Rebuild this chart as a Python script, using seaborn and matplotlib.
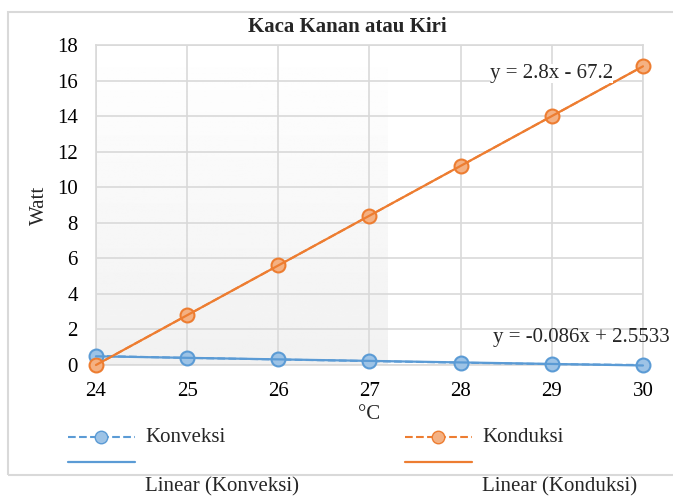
import numpy as np
import pandas as pd
import matplotlib
matplotlib.use("Agg")
import matplotlib.pyplot as plt
import seaborn as sns
from matplotlib.lines import Line2D
from matplotlib.patches import Rectangle

# ---- data ----
suhu = [24, 25, 26, 27, 28, 29, 30]
konveksi = [0.51, 0.40, 0.31, 0.22, 0.13, 0.05, 0.0]
konduksi = [0.0, 2.8, 5.6, 8.4, 11.2, 14.0, 16.8]
eq_konveksi = "y = -0.086x + 2.5533"
eq_konduksi = "y = 2.8x - 67.2"
y_ticks = [0, 2, 4, 6, 8, 10, 12, 14, 16, 18]

df = pd.DataFrame({"suhu": suhu, "Konveksi": konveksi, "Konduksi": konduksi})

sns.set_theme(style="white")
plt.rcParams["font.family"] = ["Liberation Serif", "DejaVu Serif"]

blue, blue_fill = "#5b9bd5", "#9dc3e6"
orange, orange_fill = "#ed7d31", "#f4b183"
grid_c = "#d9d9d9"
fs = 15

fig = plt.figure(figsize=(6.73, 4.96), dpi=100)
ax = fig.add_axes([0.1426, 0.2641, 0.8128, 0.6452])

# light grey shading on the left half (screenshot artefact)
grad = np.linspace(1.0, 0.945, 256).reshape(-1, 1)
ax.imshow(grad, extent=[24, 27.2, 0, 18], origin="upper", aspect="auto",
          cmap="gray", vmin=0, vmax=1, zorder=0)

# series (dashed with markers)
for col, c, fc in [("Konveksi", blue, blue_fill), ("Konduksi", orange, orange_fill)]:
    sns.lineplot(data=df, x="suhu", y=col, ax=ax, color=c, linestyle="--",
                 linewidth=1.5, marker="o", markersize=10, markerfacecolor=fc,
                 markeredgecolor=c, markeredgewidth=1.5, zorder=3, clip_on=False)

# linear trendlines
sns.regplot(data=df, x="suhu", y="Konveksi", ax=ax, scatter=False, ci=None,
            line_kws=dict(color=blue, linewidth=1.6, zorder=4, clip_on=False))
sns.regplot(data=df, x="suhu", y="Konduksi", ax=ax, scatter=False, ci=None,
            line_kws=dict(color=orange, linewidth=1.6, zorder=4, clip_on=False))

ax.set_xlim(24, 30)
ax.set_ylim(0, 18)
ax.set_xticks(suhu)
ax.set_yticks(y_ticks)
ax.grid(True, color=grid_c, linewidth=1.2, zorder=1)
ax.set_axisbelow(True)
for s in ax.spines.values():
    s.set_color(grid_c)
    s.set_linewidth(1.2)
ax.tick_params(axis="both", labelsize=fs, length=0, colors="black")
ax.tick_params(axis="x", pad=12)
ax.tick_params(axis="y", pad=13)
ax.set_xlabel("°C", fontsize=fs, labelpad=3)
ax.set_ylabel("Watt", fontsize=fs, labelpad=6)

ax.text(28.32, 16.37, eq_konduksi, fontsize=fs, va="center", ha="left",
        zorder=5, bbox=dict(facecolor="white", edgecolor="none", pad=0))
ax.text(28.35, 1.52, eq_konveksi, fontsize=fs, va="center", ha="left",
        zorder=5, clip_on=False)


def fx(px):
    return px / 673


def fy(py):
    return 1 - py / 496


fig.text(fx(347), fy(27), "Kaca Kanan atau Kiri", fontsize=fs,
         fontweight="bold", ha="center", va="center")

# outer chart frame
fig.add_artist(Rectangle((8 / 673, 1 - 475 / 496), 1.0, (475 - 12) / 496,
                         transform=fig.transFigure, fill=False,
                         edgecolor=grid_c, linewidth=1.5))

# hand-made legend
for x0, c, fc, name in [(68, blue, blue_fill, "Konveksi"), (405, orange, orange_fill, "Konduksi")]:
    fig.add_artist(Line2D([fx(x0), fx(x0 + 67)], [fy(437), fy(437)], color=c,
                          linestyle="--", linewidth=1.5, transform=fig.transFigure))
    fig.add_artist(Line2D([fx(x0 + 33)], [fy(437)], color=c, marker="o",
                          markersize=9, markerfacecolor=fc, markeredgecolor=c,
                          transform=fig.transFigure))
    fig.text(fx(x0 + 77), fy(437), name, fontsize=fs, va="center", ha="left")
    fig.add_artist(Line2D([fx(x0), fx(x0 + 67)], [fy(462), fy(462)], color=c,
                          linewidth=1.6, transform=fig.transFigure))
    fig.text(fx(x0 + 77), fy(487), "Linear (" + name + ")", fontsize=fs,
             va="center", ha="left")

fig.savefig("out.png", dpi=100)
